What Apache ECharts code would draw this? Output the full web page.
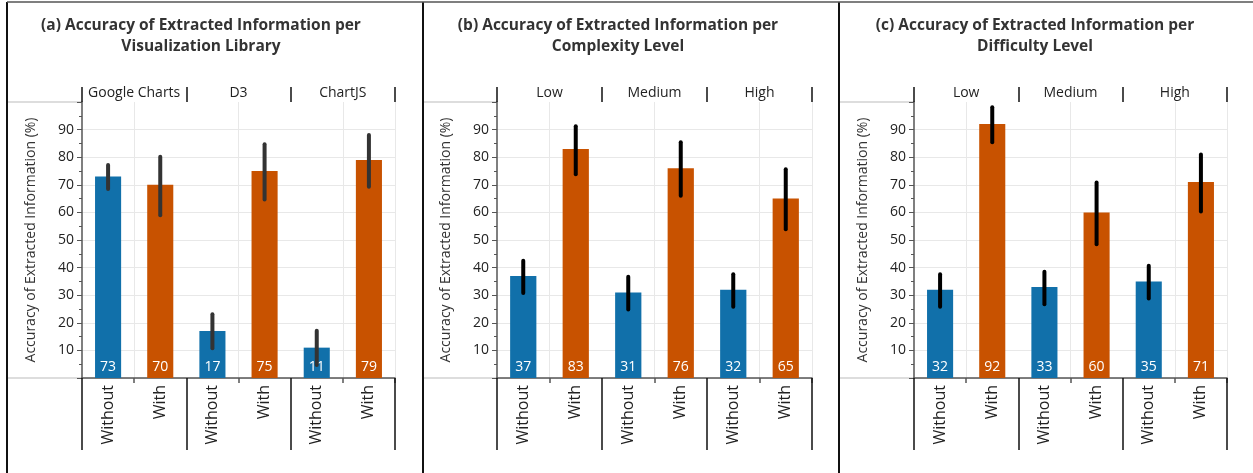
<!DOCTYPE html>
<html><head><meta charset="utf-8">
<script src="https://cdn.jsdelivr.net/npm/echarts@6/dist/echarts.min.js"></script>
<style>html,body{margin:0;padding:0;background:#fff}#c{width:1253px;height:473px}</style>
</head><body><div id="c"></div>
<script>
// ---- data ----
const conditions = ["Without", "With"];
const groupsA = ["Google Charts", "D3", "ChartJS"];
const groupsB = ["Low", "Medium", "High"];
const groupsC = ["Low", "Medium", "High"];
const valuesA = [73, 70, 17, 75, 11, 79];
const lowA    = [68.5, 59, 10.8, 64.7, 4.7, 69.3];
const highA   = [77.2, 80.2, 23.1, 84.7, 17.1, 88];
const valuesB = [37, 83, 31, 76, 32, 65];
const lowB    = [30.8, 73.8, 24.8, 66, 25.8, 53.9];
const highB   = [42.5, 91.2, 36.7, 85.4, 37.6, 75.6];
const valuesC = [32, 92, 33, 60, 35, 71];
const lowC    = [25.8, 85.4, 26.7, 48.5, 28.8, 60.3];
const highC   = [37.6, 98.1, 38.5, 70.8, 40.7, 81];
const titles = [
  "(a) Accuracy of Extracted Information per\nVisualization Library",
  "(b) Accuracy of Extracted Information per\nComplexity Level",
  "(c) Accuracy of Extracted Information per\nDifficulty Level"
];
const yAxisName = "Accuracy of Extracted Information (%)";

// ---- layout / style ----
const FONT = "Open Sans";
const BLUE = "#1170aa", ORANGE = "#c85200";
const panels = [
  {groups: groupsA, values: valuesA, low: lowA, high: highA, left: 82, width: 313, border: 7, titleX: 201, err: "#333333"},
  {groups: groupsB, values: valuesB, low: lowB, high: highB, left: 497, width: 315, border: 423, titleX: 618, err: "#000000"},
  {groups: groupsC, values: valuesC, low: lowC, high: highC, left: 914, width: 313, border: 839, titleX: 1035, err: "#000000"}
];
const TOP = 102, HEIGHT = 276;

const grid = [], xAxis = [], yAxis = [], series = [], graphic = [];
panels.forEach((p, g) => {
  const cats = [];
  p.groups.forEach(gr => conditions.forEach(c => cats.push(gr + "|" + c)));
  grid.push({left: p.left, top: TOP, width: p.width, height: HEIGHT, containLabel: false});
  // main category axis
  xAxis.push({
    type: "category", gridIndex: g, position: "bottom", data: cats,
    axisLine: {show: true, onZero: false, lineStyle: {color: "#555", width: 1.5}},
    axisTick: {show: true, length: 5, interval: i => i % 2 === 1, lineStyle: {color: "#555", width: 1.5}},
    axisLabel: {rotate: 90, margin: 7, fontSize: 16, color: "#222", fontFamily: FONT, interval: 0,
                formatter: v => v.split("|")[1]},
    splitLine: {show: true, interval: i => i % 2 === 1, lineStyle: {color: "#e8e8e8", width: 1}}
  });
  // header axis (top)
  xAxis.push({
    type: "category", gridIndex: g, position: "top", data: p.groups,
    axisLine: {show: false, onZero: false},
    axisTick: {show: true, length: 15, interval: 0, lineStyle: {color: "#111", width: 1.5}},
    axisLabel: {margin: 2, fontSize: 14, color: "#222", fontFamily: FONT, interval: 0, hideOverlap: false},
    splitLine: {show: false}
  });
  // group separators (bottom)
  xAxis.push({
    type: "category", gridIndex: g, position: "bottom", offset: 0, data: p.groups,
    axisLine: {show: false, onZero: false},
    axisTick: {show: true, length: 72, interval: 0, lineStyle: {color: "#111", width: 1.5}},
    axisLabel: {show: false},
    splitLine: {show: false}
  });
  yAxis.push({
    type: "value", gridIndex: g, min: 0, max: 100, interval: 10,
    name: yAxisName, nameLocation: "middle", nameGap: 44,
    nameTextStyle: {fontSize: 14, color: "#333", fontFamily: FONT},
    axisLine: {show: true, lineStyle: {color: "#555", width: 1.5}},
    axisTick: {show: true, length: 5, lineStyle: {color: "#555"}},
    minorTick: {show: true, splitNumber: 2, length: 3, lineStyle: {color: "#555"}},
    axisLabel: {margin: 8, fontSize: 14, color: "#222", fontFamily: FONT,
                formatter: v => (v === 0 || v === 100) ? "" : String(v)},
    splitLine: {show: true, lineStyle: {color: ["#e8e8e8","#e8e8e8","#e8e8e8","#e8e8e8","#e8e8e8","#e8e8e8","#e8e8e8","#e8e8e8","#e8e8e8","#e8e8e8","rgba(0,0,0,0)"], width: 1}}
  });
  series.push({
    type: "bar", xAxisIndex: g * 3, yAxisIndex: g, barWidth: "50%",
    data: p.values,
    itemStyle: {color: params => params.dataIndex % 2 === 0 ? BLUE : ORANGE},
    label: {show: true, position: "insideBottom", distance: 4, color: "#fff", fontSize: 14, fontFamily: FONT},
    z: 2
  });
  series.push({
    type: "custom", xAxisIndex: g * 3, yAxisIndex: g,
    data: p.low.map((l, i) => [i, l, p.high[i]]),
    encode: {x: 0, y: [1, 2]},
    z: 5,
    renderItem: (params, api) => {
      const a = api.coord([api.value(0), api.value(1)]);
      const b = api.coord([api.value(0), api.value(2)]);
      return {type: "line", shape: {x1: a[0], y1: a[1], x2: b[0], y2: b[1]},
              style: {stroke: p.err, lineWidth: 4, lineCap: "round"}};
    }
  });
  // decorations: panel border, side lines, title
  graphic.push({type: "line", shape: {x1: p.border, y1: 2, x2: p.border, y2: 473}, style: {stroke: "#111", lineWidth: 2}, z: 10});
  graphic.push({type: "line", shape: {x1: p.border, y1: TOP, x2: p.left, y2: TOP}, style: {stroke: "#dddddd", lineWidth: 2}});
  graphic.push({type: "line", shape: {x1: p.border, y1: TOP + HEIGHT, x2: p.left, y2: TOP + HEIGHT}, style: {stroke: "#dddddd", lineWidth: 2}});
  graphic.push({type: "text", x: p.titleX, y: 15, style: {text: titles[g], font: "bold 15.5px " + FONT, fill: "#333", align: "center", verticalAlign: "top", lineHeight: 21}});
});
graphic.push({type: "line", shape: {x1: 7, y1: 2, x2: 1253, y2: 2}, style: {stroke: "#555", lineWidth: 1.5}, z: 10});

const chart = echarts.init(document.getElementById("c"), null, {renderer: "canvas"});
chart.setOption({
  animation: false,
  backgroundColor: "#fff",
  textStyle: {fontFamily: FONT},
  grid, xAxis, yAxis, series, graphic
});
</script></body></html>
